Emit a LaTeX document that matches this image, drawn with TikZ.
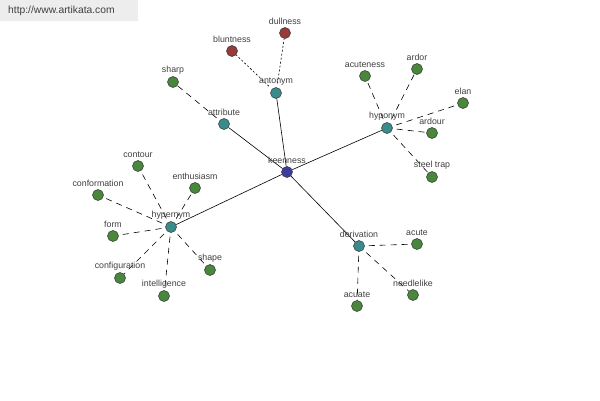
\documentclass[tikz,border=0pt]{standalone}
\usepackage{fontspec}
\setmainfont{Liberation Sans}
\definecolor{hubc}{RGB}{60,60,160}
\definecolor{relc}{RGB}{58,140,140}
\definecolor{leafc}{RGB}{72,135,60}
\definecolor{antoc}{RGB}{150,58,58}
\begin{document}
\begin{tikzpicture}[x=1pt,y=-1pt,
  dot/.style={circle,draw=black!80,line width=0.5pt,minimum size=11pt,inner sep=0pt},
  hub/.style={dot,fill=hubc},
  rel/.style={dot,fill=relc},
  leaf/.style={dot,fill=leafc},
  anto/.style={dot,fill=antoc},
  lbl/.style={font=\fontsize{8.8}{10}\selectfont,text=black!75,inner sep=0pt},
  main/.style={draw=black,line width=0.6pt},
  dsh/.style={draw=black,line width=0.6pt,dash pattern=on 6pt off 5pt,shorten <=4pt},
  dtt/.style={draw=black,line width=0.6pt,dash pattern=on 2pt off 2pt,shorten <=4pt}]
\useasboundingbox (0,0) rectangle (600,400);
\fill[white] (0,0) rectangle (600,400);
\fill[black!7] (0,0) rectangle (138,21);
\node[font=\fontsize{10.3}{12}\selectfont,text=black!75,anchor=west,inner sep=0pt] (wm) at (8,11) {http://www.artikata.com};
% nodes
\node[hub] (keen) at (287,172) {};
\node[rel] (anto) at (276,93) {};
\node[rel] (attr) at (224,124) {};
\node[rel] (hypo) at (387,128) {};
\node[rel] (hyper) at (171,227) {};
\node[rel] (deriv) at (359,246) {};
\node[anto] (blunt) at (232,51) {};
\node[anto] (dull) at (285,33) {};
\node[leaf] (sharp) at (173,82) {};
\node[leaf] (acuten) at (365,76) {};
\node[leaf] (ardor) at (417,69) {};
\node[leaf] (elan) at (463,103) {};
\node[leaf] (ardour) at (432,133) {};
\node[leaf] (steel) at (432,177) {};
\node[leaf] (contour) at (138,166) {};
\node[leaf] (enth) at (195,188) {};
\node[leaf] (conf) at (98,195) {};
\node[leaf] (form) at (113,236) {};
\node[leaf] (config) at (120,278) {};
\node[leaf] (intel) at (164,296) {};
\node[leaf] (shape) at (210,270) {};
\node[leaf] (acute) at (417,244) {};
\node[leaf] (needle) at (413,295) {};
\node[leaf] (acuate) at (357,306) {};
% edges
\path[main] (keen) -- (anto);
\path[main] (keen) -- (attr);
\path[main] (keen) -- (hypo);
\path[main] (keen) -- (hyper);
\path[main] (keen) -- (deriv);
\path[dtt] (anto) -- (blunt);
\path[dtt] (anto) -- (dull);
\path[dsh] (attr) -- (sharp);
\foreach \n in {acuten,ardor,elan,ardour,steel} \path[dsh] (hypo) -- (\n);
\foreach \n in {contour,enth,conf,form,config,intel,shape} \path[dsh] (hyper) -- (\n);
\foreach \n in {acute,needle,acuate} \path[dsh] (deriv) -- (\n);
% labels
\foreach \n/\t in {keen/keenness,anto/antonym,attr/attribute,hypo/hyponym,hyper/hypernym,deriv/derivation,blunt/bluntness,dull/dullness,sharp/sharp,acuten/acuteness,ardor/ardor,elan/elan,ardour/ardour,steel/steel trap,contour/contour,enth/enthusiasm,conf/conformation,form/form,config/configuration,intel/intelligence,shape/shape,acute/acute,needle/needlelike,acuate/acuate}
  \node[lbl] (l-\n) at ([yshift=11.5pt]\n.center) {\t};
\end{tikzpicture}
\end{document}
